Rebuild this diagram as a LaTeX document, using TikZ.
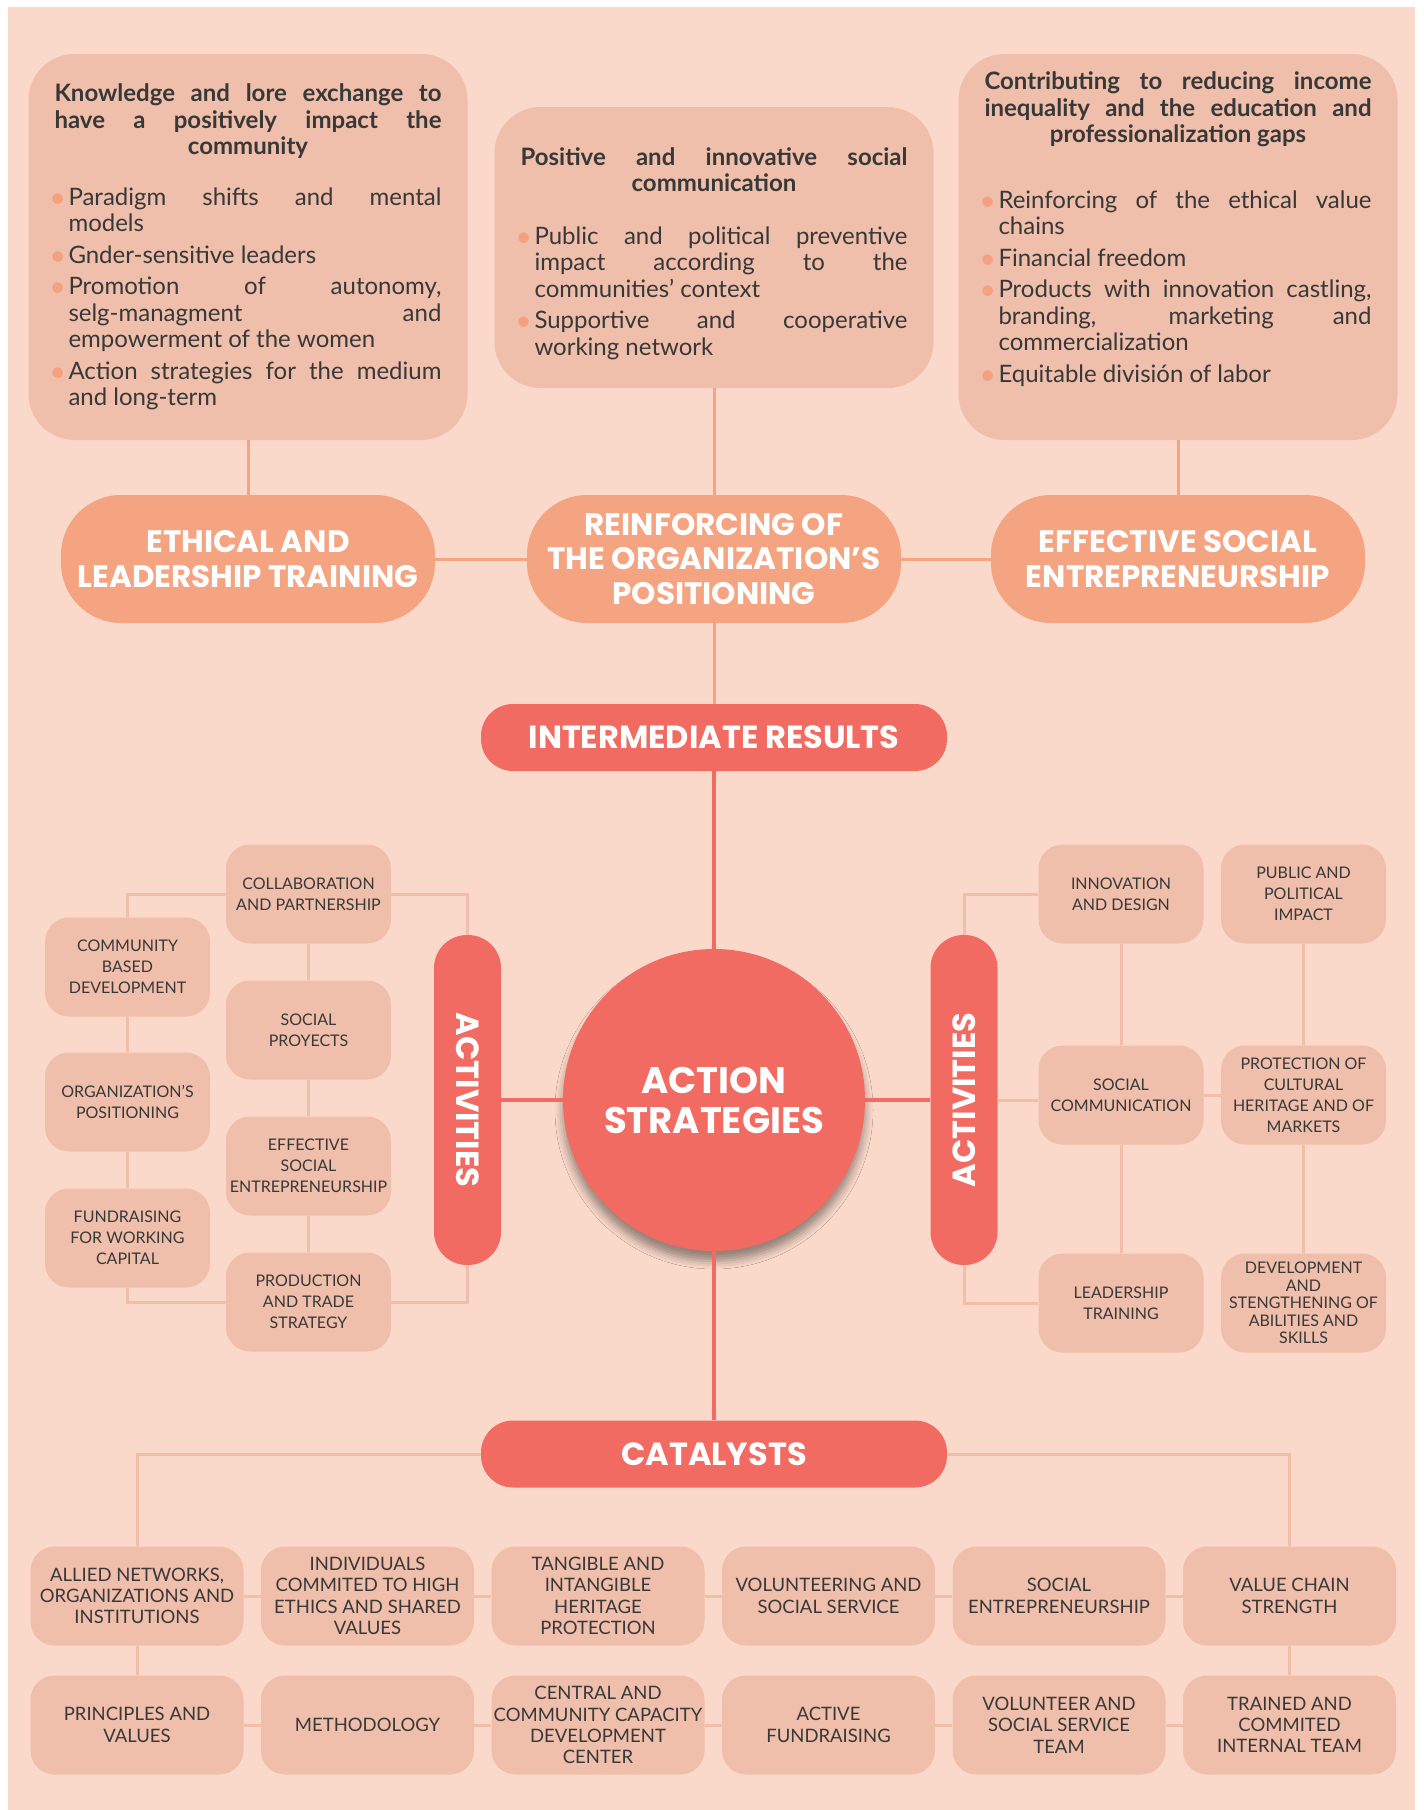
\documentclass[tikz,border=0pt]{standalone}
\usepackage{fontspec}
\setmainfont{Lato}
\newfontfamily\headfont{Poppins}
\usetikzlibrary{positioning,shadows.blur}

\definecolor{bgpeach}{HTML}{FAD9CA}
\definecolor{boxc}{HTML}{EFBFAB}
\definecolor{pillc}{HTML}{F5A482}
\definecolor{redc}{HTML}{F26B62}
\definecolor{txt}{HTML}{383838}
\definecolor{dotc}{HTML}{F5A07E}

\hyphenpenalty=10000
\exhyphenpenalty=10000
\tolerance=9999

\newcommand{\btitle}[1]{{\bfseries\leftskip=0pt plus 0.5fil\rightskip=0pt plus -0.5fil\parfillskip=0pt plus 1fil #1\par}}
\newcommand{\bitem}[1]{\par\vspace{5pt}\hangindent=14pt\hangafter=1\noindent\hbox to 14pt{\kern-5pt\raisebox{-2pt}{\color{dotc}\fontsize{28}{20}\selectfont\textbullet}\hss}#1\par}

\begin{document}
\begin{tikzpicture}[
      x=1pt, y=-1pt,
      node distance=230.5pt,
      every node/.style={align=center},
      topbox/.style={fill=boxc, rounded corners=46pt, minimum width=439pt, minimum height=386pt, text width=387pt, align=justify, text=txt, font=\fontsize{24}{26.5}\selectfont},
      pill/.style={fill=pillc, rounded corners=60pt, minimum width=374pt, minimum height=128pt, inner sep=2pt, text=white, font=\headfont\bfseries\fontsize{31}{34.5}\selectfont},
      redpill/.style={fill=redc, rounded corners=32pt, minimum width=466pt, minimum height=67pt, text=white, font=\headfont\bfseries\fontsize{32}{34}\selectfont},
      hubcircle/.style={circle, fill=redc, minimum size=302pt, text=white, font=\headfont\bfseries\fontsize{37}{40}\selectfont,
        blur shadow={shadow xshift=0pt, shadow yshift=-10pt, shadow blur radius=8pt, shadow opacity=40}},
      actbar/.style={fill=redc, rounded corners=33pt, minimum width=67pt, minimum height=330pt, inner sep=0pt, text=white, font=\headfont\bfseries\fontsize{32}{32}\selectfont},
      actbox/.style={fill=boxc, rounded corners=24pt, minimum width=165pt, minimum height=99pt, inner sep=2pt, text=txt, font=\fontsize{16}{21}\selectfont},
      catbox/.style={fill=boxc, rounded corners=24pt, minimum width=213pt, minimum height=99pt, inner sep=2pt, text=txt, font=\fontsize{18.5}{21.3}\selectfont},
      orangeline/.style={draw=pillc, line width=3pt},
      redline/.style={draw=redc, line width=3.5pt},
      softline/.style={draw=boxc, line width=3pt}
    ]

      \useasboundingbox (0,0) rectangle (1424,1810);
      \fill[bgpeach] (8,7) rectangle (1415,1810);

% Top boxes
      \node[topbox] (know) at (248,247) {\btitle{Knowledge and lore exchange to\linebreak have a positively impact the community}\vspace{19pt}%
      \bitem{Paradigm shifts and mental\linebreak models}\bitem{Gnder-sensitive leaders}%
      \bitem{Promotion of autonomy, selg-managment and\linebreak empowerment of the women}%
      \bitem{Action strategies for the medium and long-term}};
      \node[topbox, minimum height=281pt] (posit) at (714,247.5) {\btitle{Positive and innovative social communication}\vspace{21pt}%
      \bitem{Public and political preventive impact according to the communities’ context}%
      \bitem{Supportive and cooperative working network}\vspace*{-12pt}};
      \node[topbox] (contrib) at (1178,247) {\btitle{Contributing to reducing income inequality and the education and professionalization gaps}\vspace{34pt}%
      \bitem{Reinforcing of the ethical value chains}\bitem{Financial freedom}%
      \bitem{Products with innovation castling,\linebreak branding, marketing and\linebreak commercialization}%
      \bitem{Equitable división of labor}\vspace*{36pt}};

% Results
      \node[pill] (ethical) at (248,559) {ETHICAL AND\\LEADERSHIP TRAINING};
      \node[pill] (reinf) at (714,559) {REINFORCING OF\\THE ORGANIZATION’S\\POSITIONING};
      \node[pill] (effect) at (1178,559) {EFFECTIVE SOCIAL\\ENTREPRENEURSHIP};
      \node[redpill] (inter) at (714,737.5) {INTERMEDIATE RESULTS};

% Centre
      \node[hubcircle] (hub) at (714,1100) {ACTION\\STRATEGIES};
      \node[actbar] (actl) at (467.5,1100) {\rotatebox{-90}{ACTIVITIES}};
      \node[actbar] (actr) at (964,1100) {\rotatebox{90}{ACTIVITIES}};

% Left activities
      \node[actbox] (collab) at (308.5,894) {COLLABORATION\\AND PARTNERSHIP};
      \node[actbox] (sproj) at (308.5,1030) {SOCIAL\\PROYECTS};
      \node[actbox] (ese) at (308.5,1166) {EFFECTIVE\\SOCIAL\\ENTREPRENEURSHIP};
      \node[actbox] (prod) at (308.5,1302) {PRODUCTION\\AND TRADE\\STRATEGY};
      \node[actbox] (cbd) at (127.5,967) {COMMUNITY\\BASED\\DEVELOPMENT};
      \node[actbox] (orgp) at (127.5,1102) {ORGANIZATION'S\\POSITIONING};
      \node[actbox] (fund) at (127.5,1238) {FUNDRAISING\\FOR WORKING\\CAPITAL};

% Right activities
      \node[actbox] (innov) at (1121,894) {INNOVATION\\AND DESIGN};
      \node[actbox] (scom) at (1121,1095) {SOCIAL\\COMMUNICATION};
      \node[actbox] (lead) at (1121,1303) {LEADERSHIP\\TRAINING};
      \node[actbox] (pubp) at (1303.5,894) {PUBLIC AND\\POLITICAL\\IMPACT};
      \node[actbox] (prot) at (1303.5,1095) {PROTECTION OF\\CULTURAL\\HERITAGE AND OF\\MARKETS};
      \node[actbox, font=\fontsize{16}{17.5}\selectfont] (devab) at (1303.5,1303) {DEVELOPMENT\\AND\\STENGTHENING OF\\ABILITIES AND\\SKILLS};

% Catalysts
      \node[redpill] (cat) at (714,1454) {CATALYSTS};
      \node[catbox] (allied) at (137,1596) {ALLIED NETWORKS,\\ORGANIZATIONS AND\\INSTITUTIONS};
      \node[catbox, right of=allied] (indiv) {INDIVIDUALS\\COMMITED TO HIGH\\ETHICS AND SHARED\\VALUES};
      \node[catbox, right of=indiv] (tang) {TANGIBLE AND\\INTANGIBLE\\HERITAGE\\PROTECTION};
      \node[catbox, right of=tang] (volun) {VOLUNTEERING AND\\SOCIAL SERVICE};
      \node[catbox, right of=volun] (socent) {SOCIAL\\ENTREPRENEURSHIP};
      \node[catbox, right of=socent] (valch) {VALUE CHAIN\\STRENGTH};
      \node[catbox] (princ) at (137,1725) {PRINCIPLES AND\\VALUES};
      \node[catbox, right of=princ] (method) {METHODOLOGY};
      \node[catbox, right of=method] (central) {CENTRAL AND\\COMMUNITY CAPACITY\\DEVELOPMENT\\CENTER};
      \node[catbox, right of=central] (fundr) {ACTIVE\\FUNDRAISING};
      \node[catbox, right of=fundr] (team) {VOLUNTEER AND\\SOCIAL SERVICE\\TEAM};
      \node[catbox, right of=team] (trained) {TRAINED AND\\COMMITED\\INTERNAL TEAM};

% Connections
      \draw[orangeline] (know) -- (ethical);
      \draw[orangeline] (posit) -- (reinf);
      \draw[orangeline] (contrib) -- (effect);
      \draw[orangeline] (ethical) -- (reinf);
      \draw[orangeline] (reinf) -- (effect);
      \draw[orangeline] (reinf) -- (inter);
      \draw[redline] (inter) -- (hub);
      \draw[redline] (hub) -- (cat);
      \draw[redline] (hub) -- (actl);
      \draw[redline] (hub) -- (actr);

      \draw[softline] (collab.west) -| (cbd.north);
      \draw[softline] (collab.east) -| (actl.north);
      \draw[softline] (fund.south) |- (prod.west);
      \draw[softline] (prod.east) -| (actl.south);
      \draw[softline] (cbd) -- (orgp);
      \draw[softline] (orgp) -- (fund);
      \draw[softline] (collab) -- (sproj);
      \draw[softline] (sproj) -- (ese);
      \draw[softline] (ese) -- (prod);

      \draw[softline] (actr.north) |- (innov.west);
      \draw[softline] (actr.south) |- (lead.west);
      \draw[softline] (actr.east) -- (actr.east -| scom.west);
      \draw[softline] (scom) -- (prot);
      \draw[softline] (innov) -- (scom);
      \draw[softline] (scom) -- (lead);
      \draw[softline] (pubp) -- (prot);
      \draw[softline] (prot) -- (devab);

      \draw[softline] (cat.west) -| (allied.north);
      \draw[softline] (cat.east) -| (valch.north);
      \draw[softline] (allied) -- (indiv);
      \draw[softline] (indiv) -- (tang);
      \draw[softline] (tang) -- (volun);
      \draw[softline] (volun) -- (socent);
      \draw[softline] (socent) -- (valch);
      \draw[softline] (princ) -- (method);
      \draw[softline] (method) -- (central);
      \draw[softline] (central) -- (fundr);
      \draw[softline] (fundr) -- (team);
      \draw[softline] (team) -- (trained);
      \draw[softline] (allied) -- (princ);
      \draw[softline] (valch) -- (trained);

    \end{tikzpicture}
\end{document}
